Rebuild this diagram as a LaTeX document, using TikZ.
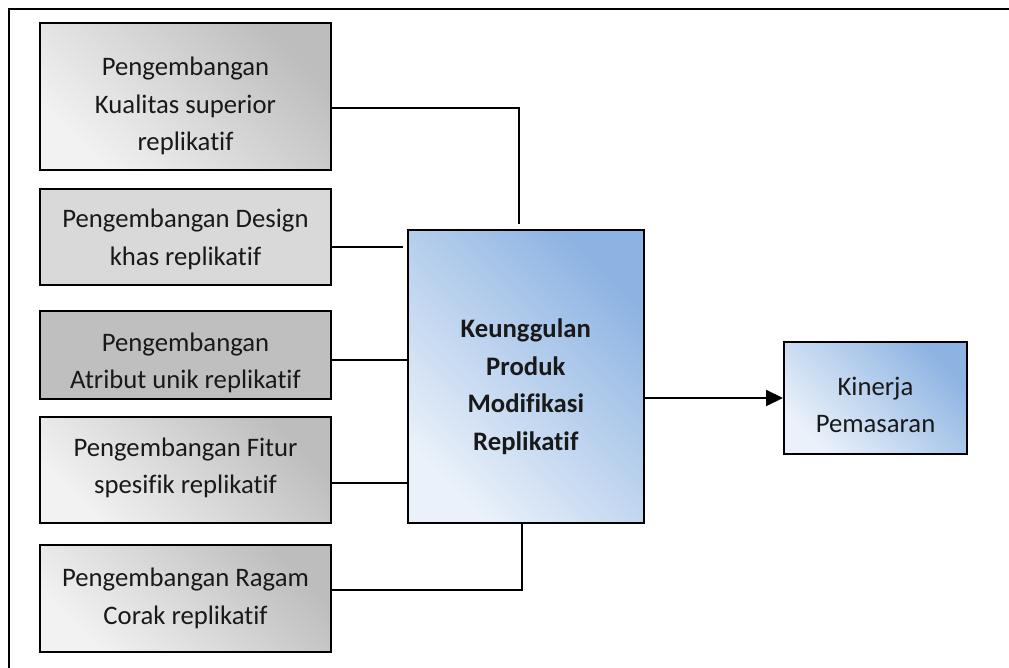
\documentclass[tikz,border=0pt]{standalone}
\usepackage{fontspec}
\setmainfont{Carlito}[Ligatures=NoCommon]
\usetikzlibrary{arrows.meta}
\definecolor{greylight}{HTML}{F2F2F2}
\definecolor{greydark}{HTML}{BDBDBD}
\definecolor{greyflat}{HTML}{D9D9D9}
\definecolor{greydeep}{HTML}{BFBFBF}
\definecolor{bluelight}{HTML}{EAF1FA}
\definecolor{bluedark}{HTML}{8DB3E2}
\begin{document}
\begin{tikzpicture}[x=1pt,y=-1pt,
  line width=2pt,
  box/.style={draw=black, line width=2pt, rectangle, inner sep=0pt},
  txt/.style={inner sep=0pt, align=center, text=black!90,
    font=\fontsize{26.7}{37.5}\selectfont},
  greygrad/.style={bottom color=greylight, top color=greydark, shading angle=-45},
  bluegrad/.style={bottom color=bluelight, top color=bluedark, shading angle=-45},
  link/.style={draw=black, line width=2pt},
]
\useasboundingbox (0,0) rectangle (1009,668);

% outer frame (only top and left edges fall inside the page)
\draw[line width=2pt] (1012,9.3) -- (8.7,9.3) -- (8.7,672);

% factor boxes on the left
\node[box, greygrad, minimum width=291pt, minimum height=147pt,
  label={[txt, yshift=-10pt]center:{Pengembangan\\Kualitas superior\\replikatif}}]
  (b1) at (185.5,96.3) {};
\node[box, fill=greyflat, minimum width=291pt, minimum height=96pt,
  label={[txt, yshift=-2pt]center:{Pengembangan Design\\khas replikatif}}]
  (b2) at (185.5,237.2) {};
\node[box, fill=greydeep, minimum width=291pt, minimum height=88pt,
  label={[txt, yshift=-8pt]center:{Pengembangan\\Atribut unik replikatif}}]
  (b3) at (185.5,354.8) {};
\node[box, greygrad, minimum width=291pt, minimum height=106pt,
  label={[txt, yshift=2pt]center:{Pengembangan Fitur\\spesifik replikatif}}]
  (b4) at (185.5,469.7) {};
\node[box, greygrad, minimum width=291pt, minimum height=107pt,
  label={[txt]center:{Pengembangan Ragam\\Corak replikatif}}]
  (b5) at (185.5,598.3) {};

% central construct
\node[box, bluegrad, minimum width=236pt, minimum height=292pt,
  label={[txt, font=\fontsize{26.7}{37.5}\selectfont\bfseries, yshift=-10pt]center:{Keunggulan\\Produk\\Modifikasi\\Replikatif}}]
  (core) at (525.8,376.5) {};

% outcome
\node[box, bluegrad, minimum width=183pt, minimum height=112pt,
  label={[txt, yshift=-7pt]center:{Kinerja\\Pemasaran}}]
  (kin) at (875.5,398) {};

% connectors
\coordinate (jtop) at (519,224);
\draw[link] (b1.east |- 0,108) -| (jtop);
\draw[link, shorten >=3.5pt] (b2.east |- 0,247) -- (core.west |- 0,247);
\draw[link] (b3.east |- 0,360) -- (core.west |- 0,360);
\draw[link] (b4.east |- 0,482.5) -- (core.west |- 0,482.5);
\draw[link] (b5.east |- 0,589.5) -| (core.south -| 521.7,0);
\draw[link, -{Triangle[length=17pt,width=16pt]}] (core.east |- kin.west) -- (kin.west);
\end{tikzpicture}
\end{document}
